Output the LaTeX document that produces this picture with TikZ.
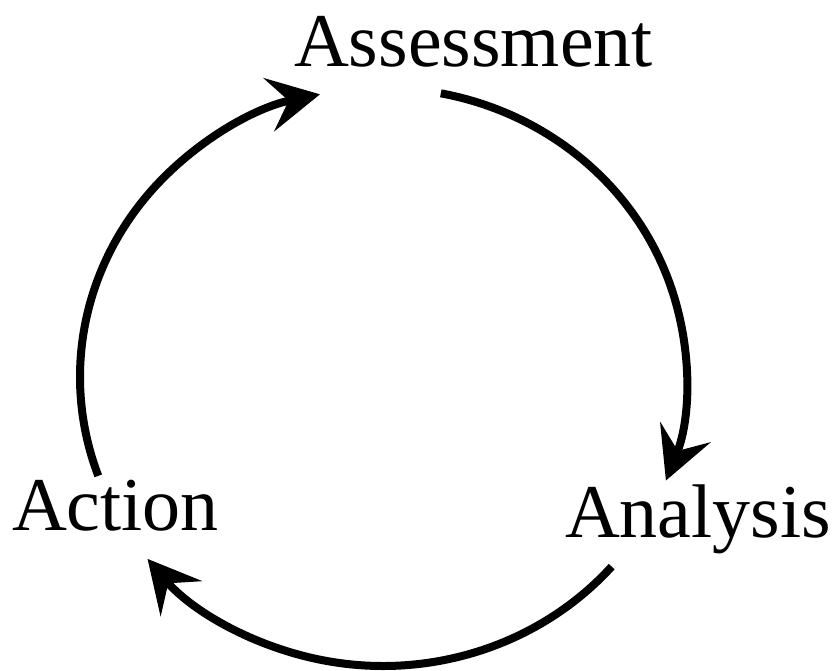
\documentclass[tikz,border=0pt]{standalone}
\usepackage{fontspec}
\setmainfont{Liberation Serif}
\usetikzlibrary{arrows.meta, calc, positioning}

\tikzset{
    label text/.style={font=\fontsize{76}{80}\selectfont, inner sep=0pt, anchor=base},
    cycle arrow/.style={line width=8pt, -{Stealth[length=52pt, width=54pt, inset=20pt]}}
}

\begin{document}
\begin{tikzpicture}[x=1pt, y=1pt]

    % =================================================================
    % 1. KHUNG HINH VA TAM CUA VONG TRON
    % =================================================================
    \useasboundingbox (0,0) rectangle (834,670);
    \coordinate (O) at (383,293);

    % =================================================================
    % 2. CAC NHAN CUA CHU TRINH
    % =================================================================
    \node[label text] (assessment) at (473.5,603) {Assessment};
    \node[label text] (action) at (115.5,140) {Action};
    \node[label text] (analysis) at (698,133) {Analysis};

    % =================================================================
    % 3. DIEM DAU CUA CAC CUNG TREN DUONG ELIP
    % =================================================================
    \coordinate (action-top) at ($(O)+(200:303 and 289)$);
    \coordinate (assessment-right) at ($(O)+(79:303 and 289)$);
    \coordinate (analysis-bottom) at ($(O)+(-41:303 and 289)$);

    % =================================================================
    % 4. VE CAC CUNG CO MUI TEN
    % =================================================================
    % Action -> Assessment
    \draw[cycle arrow] (action-top) arc[start angle=200, end angle=102, x radius=303, y radius=289];
    % Assessment -> Analysis
    \draw[cycle arrow] (assessment-right) arc[start angle=79, end angle=-21, x radius=303, y radius=289];
    % Analysis -> Action
    \draw[cycle arrow] (analysis-bottom) arc[start angle=-41, end angle=-141, x radius=303, y radius=289];

\end{tikzpicture}
\end{document}
